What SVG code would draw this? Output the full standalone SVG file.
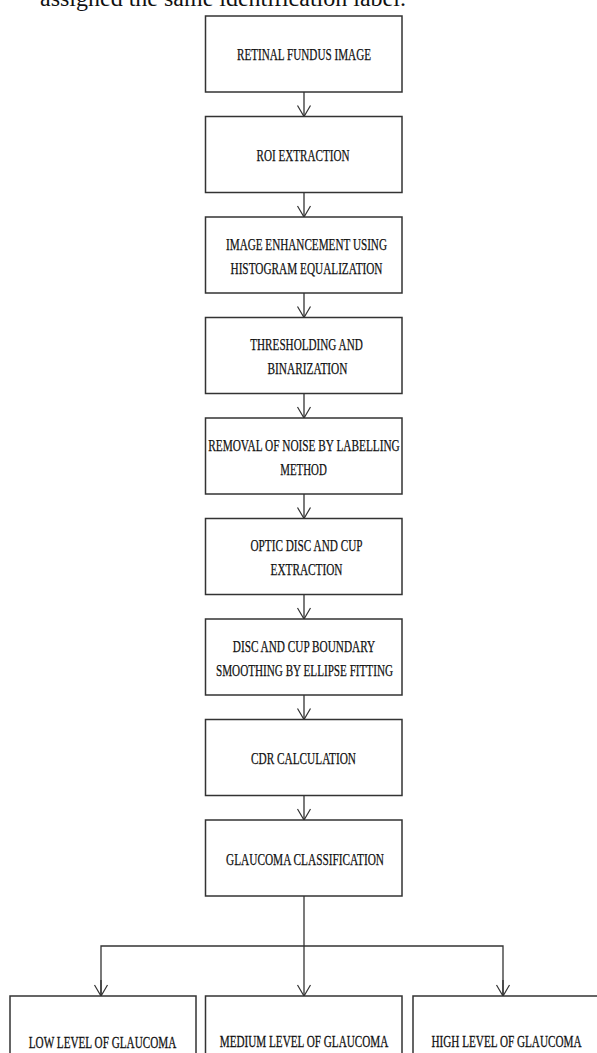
<svg xmlns="http://www.w3.org/2000/svg" width="597" height="1053" viewBox="0 0 597 1053">
<style>
.box{fill:#fff;stroke:#333;stroke-width:1.5}
.t{font-family:"Liberation Serif","Times New Roman",serif;font-size:16.5px;fill:#111;stroke:#111;stroke-width:0.25;text-anchor:middle}
.tb{font-family:"Liberation Serif","Times New Roman",serif;font-size:13px;fill:#111;stroke:#111;stroke-width:0.22;text-anchor:middle}
.c{fill:none;stroke:#333;stroke-width:1.3}
.hd{fill:none;stroke:#333;stroke-width:1.2}
</style>
<defs>
<marker id="ah" markerUnits="userSpaceOnUse" markerWidth="14" markerHeight="16" viewBox="-12 -8 14 16" refX="0" refY="0" orient="auto" overflow="visible">
<path class="hd" d="M-11,-6.5 L0,0 L-11,6.5"/>
</marker>
</defs>
<rect width="597" height="1053" fill="#fff"/>
<text x="40" y="6" font-family="Liberation Serif,serif" font-size="24" fill="#111">assigned the same identification label.</text>

<g id="connectors">
<line class="c" x1="304" y1="92" x2="304" y2="116.5" marker-end="url(#ah)"/>
<line class="c" x1="304" y1="192.5" x2="304" y2="217" marker-end="url(#ah)"/>
<line class="c" x1="304" y1="293" x2="304" y2="317.5" marker-end="url(#ah)"/>
<line class="c" x1="304" y1="393.5" x2="304" y2="418" marker-end="url(#ah)"/>
<line class="c" x1="304" y1="494" x2="304" y2="518.5" marker-end="url(#ah)"/>
<line class="c" x1="304" y1="594.5" x2="304" y2="619" marker-end="url(#ah)"/>
<line class="c" x1="304" y1="695" x2="304" y2="719.5" marker-end="url(#ah)"/>
<line class="c" x1="304" y1="795.5" x2="304" y2="820" marker-end="url(#ah)"/>
<line class="c" x1="304" y1="896" x2="304" y2="996" marker-end="url(#ah)"/>
<path class="c" d="M101,996 V946 H503 V996"/>
<line class="c" x1="101" y1="980" x2="101" y2="996" marker-end="url(#ah)"/>
<line class="c" x1="503" y1="980" x2="503" y2="996" marker-end="url(#ah)"/>
</g>

<g id="n1"><rect class="box" x="205.5" y="16" width="196.5" height="76"/>
<text class="t" x="304" y="60" textLength="134" lengthAdjust="spacingAndGlyphs">RETINAL FUNDUS IMAGE</text></g>
<g id="n2"><rect class="box" x="205.5" y="116.5" width="196.5" height="76"/>
<text class="t" x="303" y="160.5" textLength="93" lengthAdjust="spacingAndGlyphs">ROI EXTRACTION</text></g>
<g id="n3"><rect class="box" x="205.5" y="217" width="196.5" height="76"/>
<text class="t" x="306.5" y="249.5" textLength="161" lengthAdjust="spacingAndGlyphs">IMAGE ENHANCEMENT USING</text>
<text class="t" x="306.5" y="273.5" textLength="152" lengthAdjust="spacingAndGlyphs">HISTOGRAM EQUALIZATION</text></g>
<g id="n4"><rect class="box" x="205.5" y="317.5" width="196.5" height="76"/>
<text class="t" x="306.5" y="350" textLength="112.5" lengthAdjust="spacingAndGlyphs">THRESHOLDING AND</text>
<text class="t" x="307.5" y="374" textLength="80" lengthAdjust="spacingAndGlyphs">BINARIZATION</text></g>
<g id="n5"><rect class="box" x="205.5" y="418" width="196.5" height="76"/>
<text class="t" x="304" y="450.5" textLength="191.5" lengthAdjust="spacingAndGlyphs">REMOVAL OF NOISE BY LABELLING</text>
<text class="t" x="303.5" y="474.5" textLength="46.5" lengthAdjust="spacingAndGlyphs">METHOD</text></g>
<g id="n6"><rect class="box" x="205.5" y="518.5" width="196.5" height="76"/>
<text class="t" x="306.5" y="551" textLength="112" lengthAdjust="spacingAndGlyphs">OPTIC DISC AND CUP</text>
<text class="t" x="306.5" y="575" textLength="72" lengthAdjust="spacingAndGlyphs">EXTRACTION</text></g>
<g id="n7"><rect class="box" x="205.5" y="619" width="196.5" height="76"/>
<text class="t" x="304" y="651.5" textLength="142.5" lengthAdjust="spacingAndGlyphs">DISC AND CUP BOUNDARY</text>
<text class="t" x="304.5" y="675.5" textLength="177" lengthAdjust="spacingAndGlyphs">SMOOTHING BY ELLIPSE FITTING</text></g>
<g id="n8"><rect class="box" x="205.5" y="719.5" width="196.5" height="76"/>
<text class="t" x="303.5" y="763.5" textLength="105" lengthAdjust="spacingAndGlyphs">CDR CALCULATION</text></g>
<g id="n9"><rect class="box" x="205.5" y="820" width="196.5" height="76"/>
<text class="t" x="305" y="864.5" textLength="158" lengthAdjust="spacingAndGlyphs">GLAUCOMA CLASSIFICATION</text></g>
<g id="n10"><rect class="box" x="10" y="996" width="186" height="80"/>
<text class="tb" transform="translate(102.5,1047.5) scale(1,1.27)" x="0" y="0" textLength="147.5" lengthAdjust="spacingAndGlyphs">LOW LEVEL OF GLAUCOMA</text></g>
<g id="n11"><rect class="box" x="205.5" y="996" width="196.5" height="80"/>
<text class="tb" transform="translate(304,1046.5) scale(1,1.27)" x="0" y="0" textLength="168.5" lengthAdjust="spacingAndGlyphs">MEDIUM LEVEL OF GLAUCOMA</text></g>
<g id="n12"><rect class="box" x="413" y="996" width="192" height="80"/>
<text class="tb" transform="translate(506.5,1046.5) scale(1,1.27)" x="0" y="0" textLength="150" lengthAdjust="spacingAndGlyphs">HIGH LEVEL OF GLAUCOMA</text></g>
</svg>
